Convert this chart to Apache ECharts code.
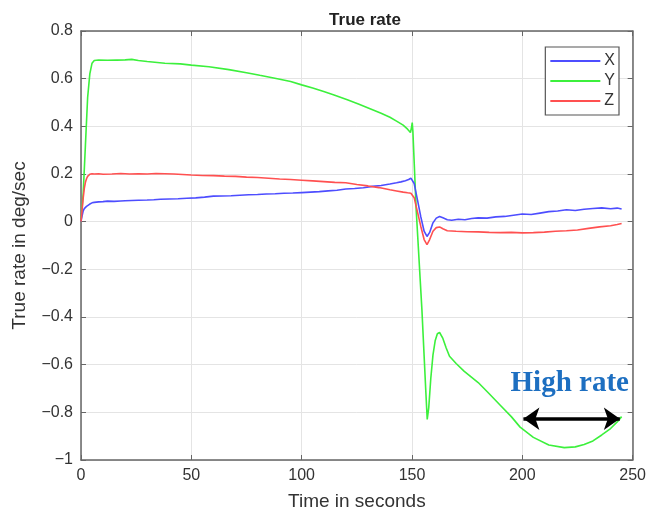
<!DOCTYPE html>
<html>
<head>
<meta charset="utf-8">
<script src="https://cdn.jsdelivr.net/npm/echarts@6/dist/echarts.min.js"></script>
<style>html,body{margin:0;padding:0;background:#fff;}#c{width:649px;height:516px;}</style>
</head>
<body>
<div id="c"></div>
<script>
// ---- data ----
const xTime = [0,0.5,1,1.5,2,2.5,3,4,5,6,8,10,12,15,18,20,23,26,30,33,36,40,44,48,52,56,60,64,68,72,76,80,84,88,92,96,100,104,108,112,116,120,124,128,132,136,140,143,145,147,148.5,149.5,150,151,152.5,154,155.5,156.8,158,159.5,161,162.5,164,166,168,171,174,177,180,184,188,192,196,200,204,208,212,216,220,224,228,232,236,240,243,245];
const xRate = [0,0.025,0.045,0.055,0.06,0.064,0.068,0.074,0.079,0.081,0.083,0.084,0.086,0.085,0.087,0.088,0.089,0.09,0.091,0.092,0.094,0.095,0.096,0.098,0.1,0.103,0.107,0.108,0.109,0.111,0.113,0.114,0.116,0.117,0.119,0.12,0.122,0.124,0.126,0.129,0.132,0.137,0.139,0.142,0.148,0.152,0.158,0.163,0.167,0.172,0.177,0.183,0.186,0.16,0.09,0.02,-0.04,-0.062,-0.045,-0.005,0.015,0.022,0.016,0.008,0.006,0.01,0.008,0.013,0.016,0.015,0.02,0.022,0.027,0.032,0.03,0.036,0.042,0.045,0.05,0.047,0.052,0.055,0.058,0.054,0.057,0.053,0.05,0.047];

const yTime = [0,1,2,3,4,5,6,8,12,16,20,23,26,30,38,45,50,58,67,75,81,89,95,100,105,110,115,121,126,131,136,140,143,146,148,149.3,149.8,150.1,150.4,151.9,154.5,156.2,156.9,157.6,158.5,159.5,160.5,161.5,162.5,164,165.5,167,170,173.7,180,185,190,195,199,205,212,219,224,228,232,236,240,243,245];
const yRate = [0,0.12,0.32,0.52,0.62,0.665,0.676,0.678,0.677,0.678,0.679,0.681,0.676,0.672,0.665,0.662,0.657,0.65,0.638,0.625,0.614,0.6,0.588,0.574,0.561,0.546,0.53,0.51,0.493,0.474,0.455,0.438,0.422,0.405,0.388,0.374,0.395,0.416,0.38,0.05,-0.37,-0.7,-0.83,-0.78,-0.66,-0.56,-0.5,-0.47,-0.465,-0.49,-0.53,-0.565,-0.595,-0.628,-0.675,-0.722,-0.77,-0.818,-0.862,-0.905,-0.937,-0.948,-0.945,-0.935,-0.92,-0.895,-0.868,-0.84,-0.818];

const zTime = [0,0.5,1,1.5,2,2.5,3,3.5,4,5,6,8,10,14,18,22,26,30,34,38,42,46,50,55,60,65,70,75,80,85,90,95,100,105,110,115,120,125,130,135,140,143,146,148,149.5,150,151,152.5,154,155.5,156.8,158,159.5,161,162.5,164,166,170,175,180,185,190,195,200,205,210,215,220,225,230,235,240,243,245];
const zRate = [0,0.05,0.1,0.14,0.165,0.18,0.19,0.196,0.199,0.201,0.2,0.201,0.199,0.2,0.202,0.2,0.201,0.2,0.202,0.201,0.2,0.198,0.196,0.194,0.193,0.191,0.19,0.187,0.185,0.182,0.179,0.177,0.174,0.171,0.168,0.165,0.163,0.156,0.15,0.143,0.134,0.129,0.124,0.121,0.119,0.117,0.1,0.04,-0.02,-0.075,-0.096,-0.075,-0.04,-0.025,-0.022,-0.03,-0.038,-0.04,-0.042,-0.043,-0.045,-0.046,-0.045,-0.047,-0.046,-0.044,-0.04,-0.038,-0.035,-0.028,-0.022,-0.017,-0.012,-0.008];

const seriesNames = ['X','Y','Z'];
const xTicks = [0,50,100,150,200,250];
const yTicks = [-1,-0.8,-0.6,-0.4,-0.2,0,0.2,0.4,0.6,0.8];
const annotationText = 'High rate';
const annotationPos = [221.5, -0.677];
const arrowStartEnd = [200.5, 244.2];
const arrowLevel = -0.827;

// ---- chart ----
const zip = (t, v) => t.map((ti, i) => [ti, v[i]]);
const axisColor = '#666';
const textColor = '#333';
const font = '"Liberation Sans", Arial, sans-serif';
const fmtY = v => (v < 0 ? '\u2212' + Math.abs(v) : String(v));

const chart = echarts.init(document.getElementById('c'), null, {renderer: 'canvas'});
const boxAxis = {
  axisLine: {show: true, onZero: false, lineStyle: {color: axisColor, width: 1.5}},
  axisTick: {show: true, inside: true, length: 5, lineStyle: {color: axisColor, width: 1}},
  axisLabel: {show: false},
  splitLine: {show: false}
};
chart.setOption({
  animation: false,
  backgroundColor: '#fff',
  title: {
    text: 'True rate', left: 360, top: 7, textAlign: 'center',
    textStyle: {fontFamily: font, fontWeight: 'bold', fontSize: 17, color: '#222'}
  },
  grid: {left: 81, right: 13, top: 31, bottom: 55},
  legend: {
    data: seriesNames, orient: 'vertical', right: 30, top: 47,
    icon: 'rect', itemWidth: 50, itemHeight: 2, itemGap: 4,
    padding: [6, 4, 6, 5],
    borderColor: '#555', borderWidth: 1.2, backgroundColor: '#fff',
    textStyle: {fontFamily: font, fontSize: 16, color: textColor, lineHeight: 16, padding: [0,0,0,-1]}
  },
  xAxis: [{
    type: 'value', min: xTicks[0], max: xTicks[xTicks.length - 1], interval: xTicks[1] - xTicks[0],
    name: 'Time in seconds', nameLocation: 'middle', nameGap: 32,
    nameTextStyle: {fontFamily: font, fontSize: 19, color: textColor},
    axisLine: {show: true, onZero: false, lineStyle: {color: axisColor, width: 1.5}},
    axisTick: {show: true, inside: true, length: 5, lineStyle: {color: axisColor}},
    axisLabel: {fontFamily: font, fontSize: 16, color: textColor, margin: 8},
    splitLine: {show: true, lineStyle: {color: '#e4e4e4', width: 1}}
  }, Object.assign({
    type: 'value', position: 'top', min: xTicks[0], max: xTicks[xTicks.length - 1], interval: xTicks[1] - xTicks[0]
  }, boxAxis)],
  yAxis: [{
    type: 'value', min: yTicks[0], max: yTicks[yTicks.length - 1], interval: 0.2,
    name: 'True rate in deg/sec', nameLocation: 'middle', nameGap: 52, nameRotate: 90,
    nameTextStyle: {fontFamily: font, fontSize: 19, color: textColor},
    axisLine: {show: true, onZero: false, lineStyle: {color: axisColor, width: 1.5}},
    axisTick: {show: true, inside: true, length: 5, lineStyle: {color: axisColor}},
    axisLabel: {fontFamily: font, fontSize: 16, color: textColor, margin: 8, formatter: fmtY},
    splitLine: {show: true, lineStyle: {color: '#e4e4e4', width: 1}}
  }, Object.assign({
    type: 'value', position: 'right', min: yTicks[0], max: yTicks[yTicks.length - 1], interval: 0.2
  }, boxAxis)],
  series: [
    {name: seriesNames[0], type: 'line', data: zip(xTime, xRate), symbol: 'none', smooth: false,
     lineStyle: {color: '#4d4dff', width: 1.6}, itemStyle: {color: '#4d4dff'}, z: 3},
    {name: seriesNames[1], type: 'line', data: zip(yTime, yRate), symbol: 'none',
     lineStyle: {color: '#3cf03c', width: 1.6}, itemStyle: {color: '#3cf03c'}, z: 2,
     markLine: {
       silent: true, symbol: ['arrow', 'arrow'], symbolSize: [17, 16],
       lineStyle: {color: '#000', width: 3.5, type: 'solid'},
       label: {show: false},
       data: [[{coord: [arrowStartEnd[0], arrowLevel]}, {coord: [arrowStartEnd[1], arrowLevel]}]]
     },
     markPoint: {
       silent: true, symbol: 'rect', symbolSize: 1, itemStyle: {color: 'rgba(0,0,0,0)'},
       label: {show: true, position: 'inside', formatter: annotationText,
               fontFamily: '"Liberation Serif", "Times New Roman", serif', fontWeight: 'bold',
               fontSize: 29, color: '#1d6fc1'},
       data: [{coord: annotationPos}]
     }},
    {name: seriesNames[2], type: 'line', data: zip(zTime, zRate), symbol: 'none',
     lineStyle: {color: '#ff5050', width: 1.6}, itemStyle: {color: '#ff5050'}, z: 3}
  ]
});
</script>
</body>
</html>
